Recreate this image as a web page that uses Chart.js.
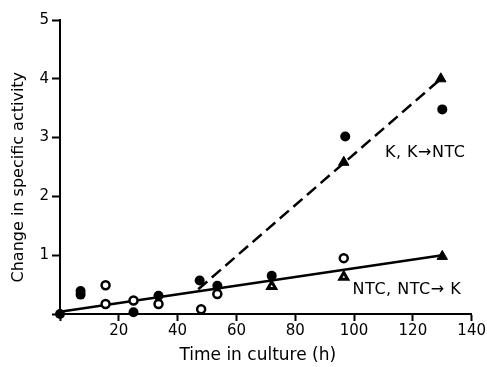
<!DOCTYPE html>
<html>
<head>
<meta charset="utf-8">
<script src="https://cdn.jsdelivr.net/npm/chart.js@4.4.0/dist/chart.umd.min.js"></script>
<style>
    body { margin: 0; background: #fff; }
    canvas { display: block; }
</style>
</head>
<body>
<canvas id="chart" width="487" height="367"></canvas>
<script>
// Data (time in h, change in specific activity)
var filledCircleX = [0, 7, 7, 25, 33.5, 47.5, 53.5, 72, 97, 130];
var filledCircleY = [0, 0.39, 0.33, 0.03, 0.31, 0.57, 0.48, 0.65, 3.02, 3.48];

var openCircleX = [15.5, 15.5, 25, 33.5, 48, 53.5, 96.5];
var openCircleY = [0.49, 0.17, 0.23, 0.17, 0.08, 0.34, 0.95];

var filledTriangleX = [96.5, 129.5, 130];
var filledTriangleY = [2.58, 4.0, 0.98];

var openTriangleX = [72, 96.5];
var openTriangleY = [0.47, 0.63];

// fitted lines
var solidLineX = [0, 130];
var solidLineY = [0.04, 1.0];
var dashedLineX = [47, 130];
var dashedLineY = [0.42, 4.02];

var xTicks = [0, 20, 40, 60, 80, 100, 120, 140];
var yTicks = [0, 1, 2, 3, 4, 5];

var notes = [
    { text: 'K, K\u2192NTC', x: 110.5, y: 2.74 },
    { text: 'NTC, NTC\u2192 K', x: 99.5, y: 0.41 }
];

function toPoints(xs, ys) {
    return xs.map(function (x, i) { return { x: x, y: ys[i] }; });
}

var fontFamily = '"DejaVu Sans", "Liberation Sans", Arial, sans-serif';

// text labels next to the lines
var notesPlugin = {
    id: 'notes',
    afterDatasetsDraw: function (chart) {
        var ctx = chart.ctx;
        ctx.save();
        ctx.fillStyle = '#000';
        ctx.font = '16px ' + fontFamily;
        ctx.letterSpacing = '0.5px';
        ctx.textAlign = 'left';
        ctx.textBaseline = 'middle';
        notes.forEach(function (n) {
            ctx.fillText(n.text, chart.scales.x.getPixelForValue(n.x), chart.scales.y.getPixelForValue(n.y));
        });
        ctx.restore();
    }
};

var context = document.getElementById('chart').getContext('2d');

var chart = new Chart(context, {
    type: 'scatter',
    data: {
        datasets: [
            {
                data: toPoints(filledCircleX, filledCircleY),
                pointStyle: 'circle',
                pointRadius: 5,
                backgroundColor: '#000',
                borderColor: '#000',
                borderWidth: 0,
                order: 1
            },
            {
                data: toPoints(openCircleX, openCircleY),
                pointStyle: 'circle',
                pointRadius: 4,
                backgroundColor: '#fff',
                borderColor: '#000',
                borderWidth: 2.5,
                order: 1
            },
            {
                data: toPoints(filledTriangleX, filledTriangleY),
                pointStyle: 'triangle',
                pointRadius: 6,
                backgroundColor: '#000',
                borderColor: '#000',
                borderWidth: 1,
                order: 1
            },
            {
                data: toPoints(openTriangleX, openTriangleY),
                pointStyle: 'triangle',
                pointRadius: 4.5,
                backgroundColor: '#fff',
                borderColor: '#000',
                borderWidth: 3,
                order: 1
            },
            {
                type: 'line',
                data: toPoints(solidLineX, solidLineY),
                borderColor: '#000',
                borderWidth: 2.5,
                pointRadius: 0,
                fill: false,
                order: 2
            },
            {
                type: 'line',
                data: toPoints(dashedLineX, dashedLineY),
                borderColor: '#000',
                borderWidth: 2.5,
                borderDash: [12, 6],
                pointRadius: 0,
                fill: false,
                order: 2
            }
        ]
    },
    options: {
        responsive: false,
        animation: false,
        devicePixelRatio: 1,
        clip: false,
        layout: { padding: { left: 0, top: 20, right: 15, bottom: 0 } },
        plugins: {
            legend: { display: false },
            tooltip: { enabled: false }
        },
        scales: {
            x: {
                type: 'linear',
                min: 0,
                max: 140,
                afterFit: function (scale) { scale.height = 53; },
                afterBuildTicks: function (scale) { scale.ticks = xTicks.map(function (v) { return { value: v }; }); },
                border: { display: true, color: '#000', width: 2 },
                grid: { display: true, drawOnChartArea: false, drawTicks: true, tickLength: 7, tickColor: '#000', tickWidth: 2 },
                ticks: {
                    color: '#000',
                    padding: 1,
                    maxRotation: 0,
                    font: { family: fontFamily, size: 15 },
                    callback: function (v) { return v === 0 ? '' : v; }
                },
                title: {
                    display: true,
                    text: 'Time in culture (h)   ',
                    color: '#000',
                    padding: { top: 0, bottom: 1 },
                    font: { family: fontFamily, size: 17 }
                }
            },
            y: {
                type: 'linear',
                min: 0,
                max: 5,
                afterFit: function (scale) { scale.width = 60; },
                afterBuildTicks: function (scale) { scale.ticks = yTicks.map(function (v) { return { value: v }; }); },
                border: { display: true, color: '#000', width: 2 },
                grid: { display: true, drawOnChartArea: false, drawTicks: true, tickLength: 8, tickColor: '#000', tickWidth: 2 },
                ticks: {
                    color: '#000',
                    padding: 3,
                    font: { family: fontFamily, size: 15 },
                    callback: function (v) { return v === 0 ? '' : v; }
                },
                title: {
                    display: true,
                    text: 'Change in specific activity    ',
                    color: '#000',
                    padding: { top: 9, bottom: 0 },
                    font: { family: fontFamily, size: 16 }
                }
            }
        }
    },
    plugins: [notesPlugin]
});
</script>
</body>
</html>
